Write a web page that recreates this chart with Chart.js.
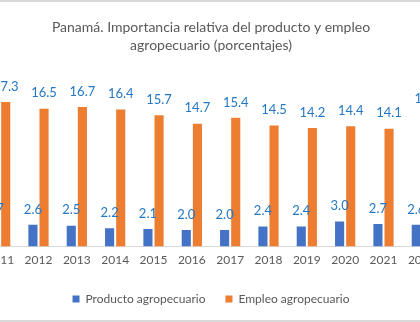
<!DOCTYPE html>
<html>
<head>
<meta charset="utf-8">
<script src="https://cdn.jsdelivr.net/npm/chart.js@4/dist/chart.umd.min.js"></script>
<style>
  html, body { margin:0; padding:0; background:#fff; }
  body { width:420px; height:322px; overflow:hidden; position:relative; }
  #wrap { position:absolute; left:-20px; top:0; width:462px; height:322px; }
  .edge { position:absolute; left:0; width:420px; height:2px; background:#d9d9d9; }
</style>
</head>
<body>
<div id="wrap"><canvas id="chart"></canvas></div>
<div class="edge" style="top:0"></div>
<div class="edge" style="top:320px"></div>
<script>
// Panamá: producto y empleo agropecuario, % del total
const years = ['2011','2012','2013','2014','2015','2016','2017','2018','2019','2020','2021','2022'];
const producto = [2.7, 2.6, 2.5, 2.2, 2.1, 2.0, 2.0, 2.4, 2.4, 3.0, 2.7, 2.6];
const empleo = [17.3, 16.5, 16.7, 16.4, 15.7, 14.7, 15.4, 14.5, 14.2, 14.4, 14.1, 15.8];

const labelColor = '#2478c6';
const textGrey = '#595959';

// values above every bar
const valueLabels = {
  id: 'valueLabels',
  afterDatasetsDraw(chart){
    const ctx = chart.ctx;
    ctx.save();
    ctx.font = '13px Lato';
    ctx.fillStyle = labelColor;
    ctx.textAlign = 'center';
    ctx.textBaseline = 'middle';
    chart.data.datasets.forEach((ds, i)=>{
      const meta = chart.getDatasetMeta(i);
      meta.data.forEach((bar, j)=>{
        ctx.fillText(ds.data[j].toFixed(1), bar.x, bar.y - 15.5);
      });
    });
    ctx.restore();
  }
};

new Chart(document.getElementById('chart'), {
  type: 'bar',
  data: {
    labels: years,
    datasets: [
      { label: 'Producto agropecuario', data: producto, backgroundColor: '#4472c4',
        barPercentage: 0.82, categoryPercentage: 0.58 },
      { label: 'Empleo agropecuario', data: empleo, backgroundColor: '#ed7d31',
        barPercentage: 0.82, categoryPercentage: 0.58 }
    ]
  },
  options: {
    responsive: true,
    maintainAspectRatio: false,
    animation: false,
    layout: { padding: { left: 1, right: 1, top: 0, bottom: 7 } },
    plugins: {
      title: {
        display: true,
        text: ['Panamá. Importancia relativa del producto y empleo', 'agropecuario (porcentajes)'],
        color: textGrey,
        font: { family: 'Lato', size: 14, weight: 'normal', lineHeight: 1.3 },
        padding: { top: 18, bottom: 25 }
      },
      legend: {
        position: 'bottom',
        labels: {
          color: textGrey,
          font: { family: 'Lato', size: 12 },
          boxWidth: 7, boxHeight: 7,
          padding: 20
        }
      },
      tooltip: { enabled: false }
    },
    scales: {
      x: {
        grid: { display: false, drawTicks: false },
        border: { color: '#d9d9d9', width: 1 },
        ticks: { color: textGrey, font: { family: 'Lato', size: 12 }, padding: 6, maxRotation: 0 }
      },
      y: { display: false, min: 0, max: 20 }
    }
  },
  plugins: [valueLabels]
});
</script>
</body>
</html>
